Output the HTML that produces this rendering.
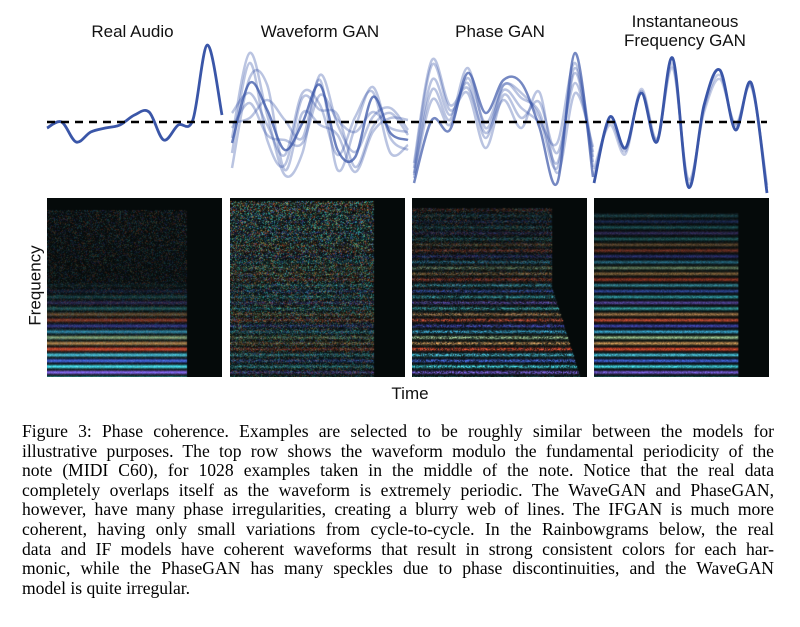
<!DOCTYPE html>
<html><head><meta charset="utf-8">
<style>
body{margin:0;background:#fff;width:800px;height:627px;overflow:hidden;position:relative;font-family:"Liberation Sans",sans-serif}
.t{position:absolute;font-size:17px;color:#111;text-align:center;line-height:19px}
canvas{position:absolute;top:198px;width:175px;height:179px;}
.cap{position:absolute;left:22px;width:752px;font-family:"Liberation Serif",serif;font-size:17.6px;color:#000;line-height:19.6px;top:422px}
.cap div{text-align:justify;text-align-last:justify;white-space:nowrap;height:19.6px}
.cap div.l{text-align-last:left}
</style></head><body>
<div class="t" style="left:70px;top:22px;width:125px">Real Audio</div>
<div class="t" style="left:240px;top:22px;width:160px">Waveform GAN</div>
<div class="t" style="left:430px;top:22px;width:140px">Phase GAN</div>
<div class="t" style="left:600px;top:12px;width:170px">Instantaneous<br>Frequency GAN</div>
<svg id="wav" width="800" height="200" style="position:absolute;left:0;top:0"></svg>
<div class="t" style="left:-15px;top:276px;width:100px;transform:rotate(-90deg)">Frequency</div>
<canvas id="c0" width="175" height="179" style="left:47px"></canvas>
<canvas id="c1" width="175" height="179" style="left:230px"></canvas>
<canvas id="c2" width="176" height="179" style="left:412px"></canvas>
<canvas id="c3" width="177" height="179" style="left:594px"></canvas>
<div class="t" style="left:360px;top:384px;width:100px">Time</div>
<div class="cap">
<div>Figure 3: Phase coherence. Examples are selected to be roughly similar between the models for</div>
<div>illustrative purposes. The top row shows the waveform modulo the fundamental periodicity of the</div>
<div>note (MIDI C60), for 1028 examples taken in the middle of the note. Notice that the real data</div>
<div>completely overlaps itself as the waveform is extremely periodic. The WaveGAN and PhaseGAN,</div>
<div>however, have many phase irregularities, creating a blurry web of lines. The IFGAN is much more</div>
<div>coherent, having only small variations from cycle-to-cycle. In the Rainbowgrams below, the real</div>
<div>data and IF models have coherent waveforms that result in strong consistent colors for each har-</div>
<div>monic, while the PhaseGAN has many speckles due to phase discontinuities, and the WaveGAN</div>
<div class="l">model is quite irregular.</div>
</div>
<script>
// waveform data: amplitude relative to zero line (positive = up), px-units
const realVals=[-6,0,-20,-10,-6,-3,7,10,-18,-3,2,77,7];
const waveBase=[-21,39,12,-28,-1,37,-28,-35,25,-11,-18];
const waveVar=[[0,0,0,0,0,0,0,0,0,0,0],[15,-20,-25,10,-20,-10,30,25,-15,5,8],[-10,20,-30,-15,25,-25,35,-10,-30,20,5],[20,-35,10,30,-15,5,-20,30,10,-5,-10],[-25,5,25,-20,10,-40,15,-15,-35,15,20],[30,-10,-15,-5,30,-20,-5,40,5,-20,-5],[5,30,-5,-25,-30,10,25,5,-20,25,10]];
const phaseBase=[-61,2,-8,49,9,42,39,-5,-61,69,-55];
const phaseVar=[[0,0,0,0,0,0,0,0,0,0,0],[10,40,15,-10,-25,-5,-15,15,20,-20,15],[15,55,20,-20,-35,-15,-35,25,30,-30,25],[8,30,10,5,-15,-10,-25,5,40,-10,20],[20,60,25,-15,-20,-20,-45,35,10,-40,30],[5,20,5,-5,-10,-5,-10,10,15,-15,10]];
const ifVals=[-61,5,-26,29,-20,64,-65,17,52,-8,39,-71];
const ifVar=[[0,0,0,0,0,0,0,0,0,0,0,0],[8,-4,-3,2,2,-6,4,-4,-5,4,-2,5],[14,-8,-6,4,3,-10,8,-7,-9,6,-4,8]];
const zeroY=122;
const svg=document.getElementById('wav');
const NS='http://www.w3.org/2000/svg';
function xs(x0,x1,n){return i=>x0+(x1-x0)*i/(n-1);}
function yScale(v){return zeroY-v;}
function curve(vals,x0,x1,op,name,w){
  const fx=xs(x0,x1,vals.length);
  const pts=vals.map((v,i)=>[fx(i),yScale(v)]);
  let d='M'+pts[0][0]+','+pts[0][1];
  for(let i=0;i<pts.length-1;i++){
    const p0=pts[Math.max(0,i-1)],p1=pts[i],p2=pts[i+1],p3=pts[Math.min(pts.length-1,i+2)];
    const c1x=p1[0]+(p2[0]-p0[0])/6,c1y=p1[1]+(p2[1]-p0[1])/6;
    const c2x=p2[0]-(p3[0]-p1[0])/6,c2y=p2[1]-(p3[1]-p1[1])/6;
    d+=' C'+c1x+','+c1y+' '+c2x+','+c2y+' '+p2[0]+','+p2[1];
  }
  const p=document.createElementNS(NS,'path');
  p.setAttribute('d',d);p.setAttribute('fill','none');
  p.setAttribute('stroke','#3a56a8');p.setAttribute('stroke-width',w||2.5);
  p.setAttribute('stroke-opacity',op);p.setAttribute('stroke-linejoin','round');
  
  
  svg.appendChild(p);
}
function add(a,b){return a.map((v,i)=>v+b[i]);}
curve(realVals,47,222,1,'real-waveform',2.8);
waveVar.forEach((vv,k)=>curve(add(waveBase,vv),232,408,k==0?0.75:0.35,'wavegan-waveform'));
phaseVar.forEach((vv,k)=>curve(add(phaseBase,vv),414,593,k==0?0.7:0.35,'phasegan-waveform'));
ifVar.forEach((vv,k)=>curve(add(ifVals,vv),594,767,k==0?1:0.3,'ifgan-waveform',k==0?2.8:2.5));
const dl=document.createElementNS(NS,'line');
dl.setAttribute('x1',47);dl.setAttribute('x2',767);dl.setAttribute('y1',zeroY);dl.setAttribute('y2',zeroY);
dl.setAttribute('stroke','#000');dl.setAttribute('stroke-width',2.5);dl.setAttribute('stroke-dasharray','8,6');


svg.appendChild(dl);

// rainbowgram rendering (texture)
const pal=[[60,200,215],[60,90,210],[70,190,215],[230,70,40],[210,150,80],[170,210,150],[60,180,225],[70,70,200],[235,80,50],[200,140,80],[60,190,190],[110,80,200]];
let seed=7;function rnd(){seed=(seed*16807)%2147483647;return seed/2147483647;}
function draw(id,o){
  const c=document.getElementById(id),ctx=c.getContext('2d'),W=c.width,H=c.height;
  const im=ctx.createImageData(W,H),d=im.data;
  for(let y=0;y<H;y++){
    const rp=(H-8-y)/5.8,k=Math.floor(rp),fr=rp-k;
    const prof=Math.exp(-Math.pow(fr-0.5,2)/o.wid);
    const col=pal[((k%pal.length)+pal.length)%pal.length];
    const endX=o.end(y,H)*W;
    const A=y<o.top?0:o.amp(k);
    for(let x=0;x<W;x++){
      let r=5,g=10,b=10;
      if(x<endX && y>=o.top){
        const n=rnd();
        let s=A*prof*(1-o.mnoise+o.mnoise*n*1.6);
        const sp=o.speck*(0.4+0.6*(1-y/H))*Math.pow(rnd(),2);
        const sc=pal[Math.floor(rnd()*pal.length)];
        r+=col[0]*s+sc[0]*sp;g+=col[1]*s+sc[1]*sp*o.gt;b+=col[2]*s+sc[2]*sp;
      }
      const i=(y*W+x)*4;d[i]=Math.min(255,r);d[i+1]=Math.min(255,g);d[i+2]=Math.min(255,b);d[i+3]=255;
    }
  }
  ctx.putImageData(im,0,0);
}
draw('c0',{top:12,wid:0.1,amp:k=>Math.max(0,1-k/15)*1.05,mnoise:0.15,speck:0.3,gt:1,end:(y,H)=>0.8});
draw('c1',{top:3,wid:0.08,amp:k=>0.35*Math.max(0.3,1-k/30),mnoise:0.9,speck:0.75,gt:1.2,end:(y,H)=>0.82});
draw('c2',{top:10,wid:0.07,amp:k=>0.85*Math.max(0.15,1-k/30),mnoise:0.9,speck:0.3,gt:1,end:(y,H)=>y>H*0.5?0.8+0.16*(y-H*0.5)/(H*0.5):0.8});
draw('c3',{top:15,wid:0.08,amp:k=>Math.max(0.25,1-k/35),mnoise:0.35,speck:0.1,gt:1,end:(y,H)=>0.82});
</script>
</body></html>
